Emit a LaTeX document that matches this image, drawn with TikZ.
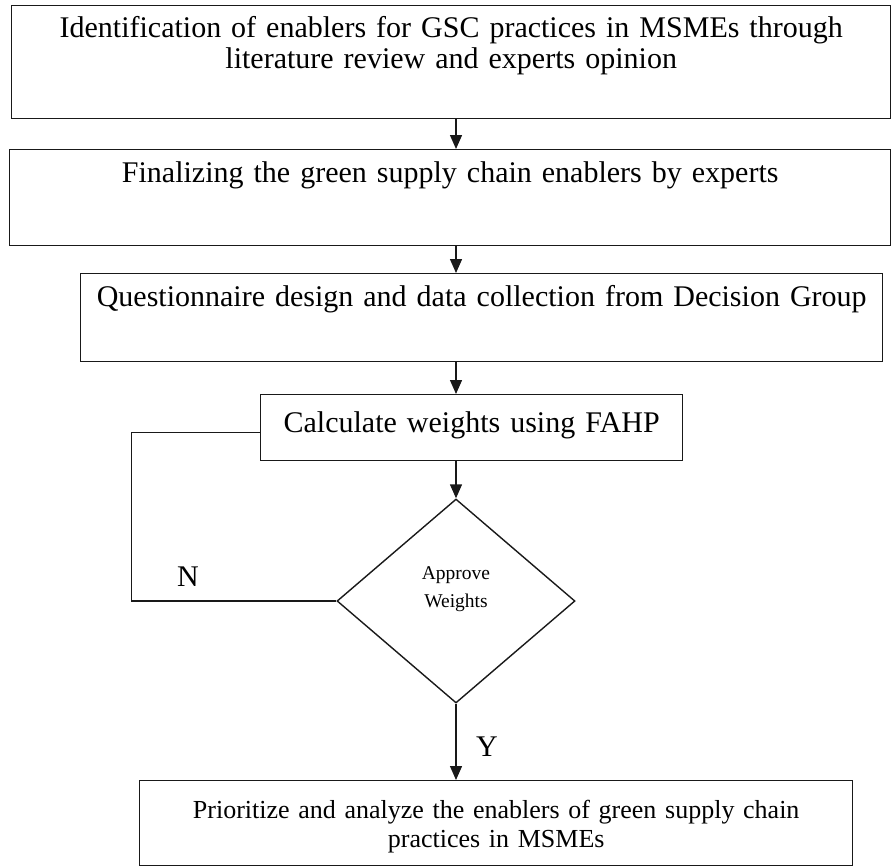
\documentclass[tikz,border=0pt]{standalone}
\usepackage{fontspec}
\setmainfont{Liberation Serif}
\usetikzlibrary{shapes.geometric,arrows.meta}
\begin{document}
\begin{tikzpicture}[x=1pt,y=-1pt,
  boxst/.style={draw=black!90, line width=1.4pt, inner xsep=0pt, inner ysep=0pt, align=center, anchor=north west, font=\fontsize{30}{31}\selectfont},
  arr/.style={draw=black!90, line width=1.4pt, -{Triangle[width=12pt,length=14pt]}},
  lin/.style={draw=black!90, line width=1.4pt},
  lab/.style={font=\fontsize{30}{31}\selectfont, anchor=base, inner sep=0pt}]
\useasboundingbox (0,0) rectangle (892,867);
\node[boxst, text width=879pt, text height=32pt, text depth=81pt] (b1) at (11,5) {Identification of enablers for GSC practices in MSMEs through\\literature review and experts opinion};
\node[boxst, text width=881pt, text height=33pt, text depth=63pt] (b2) at (9,149) {Finalizing the green supply chain enablers by experts};
\node[boxst, text width=802pt, text height=33pt, text depth=55pt] (b3) at (80,273) {Questionnaire design and data collection from Decision Group};
\node[boxst, text width=422pt, text height=38pt, text depth=28pt] (b4) at (260,394) {Calculate weights using FAHP};
\node[diamond, lin, minimum width=238pt, minimum height=204pt, inner sep=0pt] (dec) at (456,601) {};
\node[align=center, anchor=north, inner sep=0pt, font=\fontsize{19.5}{28}\selectfont] (dectext) at (456,566) {Approve\\Weights};
\node[boxst, font=\fontsize{26}{29}\selectfont, text width=713pt, text height=38pt, text depth=47pt] (b6) at (139,780) {Prioritize and analyze the enablers of green supply chain\\practices in MSMEs};
\draw[arr] (b1.south -| dec.north) -- (b2.north -| dec.north);
\draw[arr] (b2.south -| dec.north) -- (b3.north -| dec.north);
\draw[arr] (b3.south -| dec.north) -- (b4.north -| dec.north);
\draw[arr] (b4.south -| dec.north) -- (dec.north);
\draw[arr] (dec.south) -- (b6.north -| dec.south);
\draw[lin] (dec.west) -- ++(-205,0) |- (b4.base west);
\node[lab] (nlab) at (188,586) {N};
\node[lab] (ylab) at (487,756) {Y};
\end{tikzpicture}
\end{document}
